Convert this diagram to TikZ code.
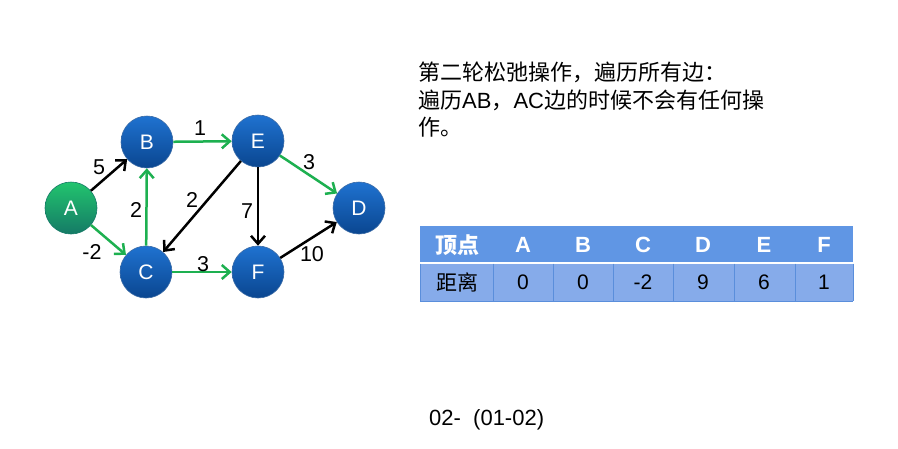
\documentclass[tikz,border=0pt]{standalone}
\usepackage{fontspec}
\setmainfont{Liberation Sans}
\newfontfamily\cjk{Noto Sans CJK SC}
\usetikzlibrary{arrows.meta}
\definecolor{nblueT}{HTML}{1F72D0}
\definecolor{nblueB}{HTML}{0A4690}
\definecolor{ngreenT}{HTML}{22C46E}
\definecolor{ngreenB}{HTML}{157A66}
\definecolor{egreen}{HTML}{1DB050}
\definecolor{thead}{HTML}{6096E4}
\definecolor{trow}{HTML}{86ABEA}
\definecolor{tline}{HTML}{5A8EDB}
\tikzset{
  vtx/.style={circle, minimum size=52pt, inner sep=0pt, top color=nblueT, bottom color=nblueB, draw=nblueB!80, line width=0.6pt, text=white, font=\fontsize{21}{21}\selectfont},
  vtxg/.style={vtx, top color=ngreenT, bottom color=ngreenB, draw=ngreenB},
  gedge/.style={draw=egreen, line width=2.5pt, -{Straight Barb[length=8pt,width=14pt,line width=2.5pt]}},
  kedge/.style={draw=black, line width=2.5pt, -{Straight Barb[length=8pt,width=14pt,line width=2.5pt]}},
  wlab/.style={font=\fontsize{21.5}{21.5}\selectfont, inner sep=0pt},
  thtxt/.style={font=\fontsize{22}{22}\selectfont\bfseries, text=white, inner sep=0pt},
  tdtxt/.style={font=\fontsize{21}{21}\selectfont, text=black, inner sep=0pt},
}
\begin{document}
\begin{tikzpicture}[x=1pt,y=-1pt]
\useasboundingbox[fill=white] (0,0) rectangle (898,448);
% vertices
\node[vtxg] (A) at (71,208) {A};
\node[vtx] (B) at (147,142) {B};
\node[vtx] (C) at (146,272) {C};
\node[vtx] (E) at (258,141) {E};
\node[vtx] (D) at (359,208) {D};
\node[vtx] (F) at (258,272) {F};
% edges
\draw[kedge] (A) -- (B);
\draw[gedge] (A) -- (C);
\draw[gedge] (C) -- (B);
\draw[gedge] (B) -- (E);
\draw[kedge] (E) -- (C);
\draw[gedge] (E) -- (D);
\draw[kedge] (E) -- (F);
\draw[gedge] (C) -- (F);
\draw[kedge] (F) -- (D);
% weights
\node[wlab] (w1) at (99,167) {5};
\node[wlab] (w2) at (92,252) {-2};
\node[wlab] (w3) at (136,210) {2};
\node[wlab] (w4) at (200,128) {1};
\node[wlab] (w5) at (192,200) {2};
\node[wlab] (w6) at (309,162) {3};
\node[wlab] (w7) at (247,211) {7};
\node[wlab] (w8) at (203,264) {3};
\node[wlab] (w9) at (312,254) {10};
% description
\node[anchor=north west, align=left, inner sep=0pt, font=\fontsize{22}{27.5}\selectfont] (txt) at (418,62)
 {{\cjk 第二轮松弛操作，遍历所有边：}\\
  {\cjk 遍历}AB{\cjk ，}AC{\cjk 边的时候不会有任何操}\\
  {\cjk 作。}};
% table
\fill[thead] (420,226) rectangle (853,263);
\fill[trow] (420,263) rectangle (853,301);
\draw[white, line width=1.2pt] (420,263) -- (853,263);
\foreach \xx in {493,553,613,673,734,795} {
  \draw[tline, line width=0.8pt] (\xx,263.6) -- (\xx,301);
}
\draw[tline, line width=0.8pt] (420,301) -- (853,301);
\draw[tline, line width=0.8pt] (420,263.6) -- (420,301);
\draw[tline, line width=0.8pt] (853,263.6) -- (853,301);
\node[thtxt] (h0) at (457,245) {\cjk\bfseries 顶点};
\node[thtxt] (h1) at (523,245) {A};
\node[thtxt] (h2) at (583,245) {B};
\node[thtxt] (h3) at (643,245) {C};
\node[thtxt] (h4) at (703,245) {D};
\node[thtxt] (h5) at (764,245) {E};
\node[thtxt] (h6) at (824,245) {F};
\node[tdtxt] (d0) at (457,282) {\cjk 距离};
\node[tdtxt] (d1) at (523,282) {0};
\node[tdtxt] (d2) at (583,282) {0};
\node[tdtxt] (d3) at (643,282) {-2};
\node[tdtxt] (d4) at (703,282) {9};
\node[tdtxt] (d5) at (764,282) {6};
\node[tdtxt] (d6) at (824,282) {1};
% footer
\node[anchor=west, inner sep=0pt, font=\fontsize{22}{22}\selectfont] (foot) at (429,420) {02-\ \ (01-02)};
\end{tikzpicture}
\end{document}
